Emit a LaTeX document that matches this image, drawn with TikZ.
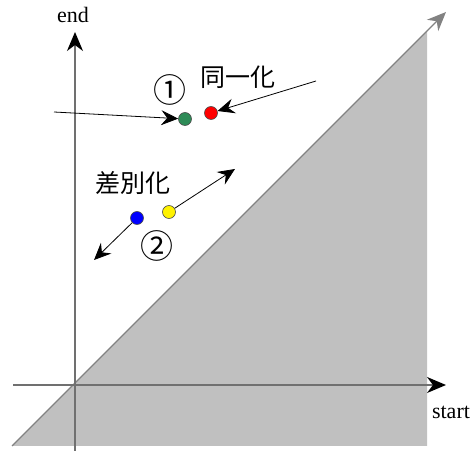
\documentclass[tikz,border=0pt]{standalone}
\usepackage{fontspec}
\setmainfont{Liberation Serif}
\newfontfamily\jafont{Noto Sans CJK JP}
\usetikzlibrary{arrows.meta,positioning}
\definecolor{regiongray}{RGB}{192,192,192}
\definecolor{axisgray}{RGB}{112,112,112}
\definecolor{diaggray}{RGB}{130,130,130}
\definecolor{dotgreen}{RGB}{46,139,87}
\tikzset{
  axis/.style={draw=axisgray, line width=1.2pt, -{Stealth[length=19pt,width=16pt,inset=6pt,color=black]}},
  diag/.style={draw=diaggray, line width=1.2pt, -{Stealth[length=19pt,width=16pt,inset=6pt]}},
  dot/.style={circle, draw=black!70, line width=0.6pt, minimum size=13pt, inner sep=0pt},
  move/.style={-{Stealth[length=17pt,width=15pt,inset=6pt]}, line width=0.8pt},
  lbl/.style={font=\fontsize{22}{24}\selectfont, inner sep=0pt},
  jlbl/.style={font=\jafont\fontsize{25}{27}\selectfont, inner sep=0pt},
  numlbl/.style={font=\jafont\fontsize{33}{35}\selectfont, inner sep=0pt},
}

\begin{document}
\begin{tikzpicture}[x=1pt,y=-1pt]
\useasboundingbox (0,0) rectangle (472,454);

% region start > end
\fill[regiongray] (12,446) -- (427,31) -- (427,446) -- cycle;

\coordinate (diagfrom) at (12,446);
\coordinate (diagto) at (446,12);
\coordinate (xfrom) at (13,385);
\coordinate (xto) at (446,385);
\coordinate (yfrom) at (75,451);
\coordinate (yto) at (75,32);

\draw[diag] (diagfrom) -- (diagto);
\draw[axis] (xfrom) -- (xto);
\draw[axis] (yfrom) -- (yto);

\node[lbl] (endlbl) at (73,15) {end};
\node[lbl] (startlbl) at (451,412) {start};

% points
\node[dot, fill=dotgreen] (green) at (185,119) {};
\node[dot, fill=red] (red) at (211,113) {};
\node[dot, fill=yellow] (yellow) at (169,212) {};
\node[dot, fill=blue] (blue) at (137,218) {};

\node[numlbl] (one) at (170,90) {①};
\node[jlbl] (same) at (238,77) {同一化};
\node[jlbl] (diff) at (133,183) {差別化};
\node[numlbl] (two) at (157,246) {②};

\coordinate (greenfrom) at (54,112);
\coordinate (redfrom) at (316,81);
\coordinate (yellowto) at (235,169);
\coordinate (blueto) at (94,260);

\draw[move] (greenfrom) -- (green);
\draw[move] (redfrom) -- (red);
\draw[move] (yellow) -- (yellowto);
\draw[move] (blue) -- (blueto);

\end{tikzpicture}
\end{document}
